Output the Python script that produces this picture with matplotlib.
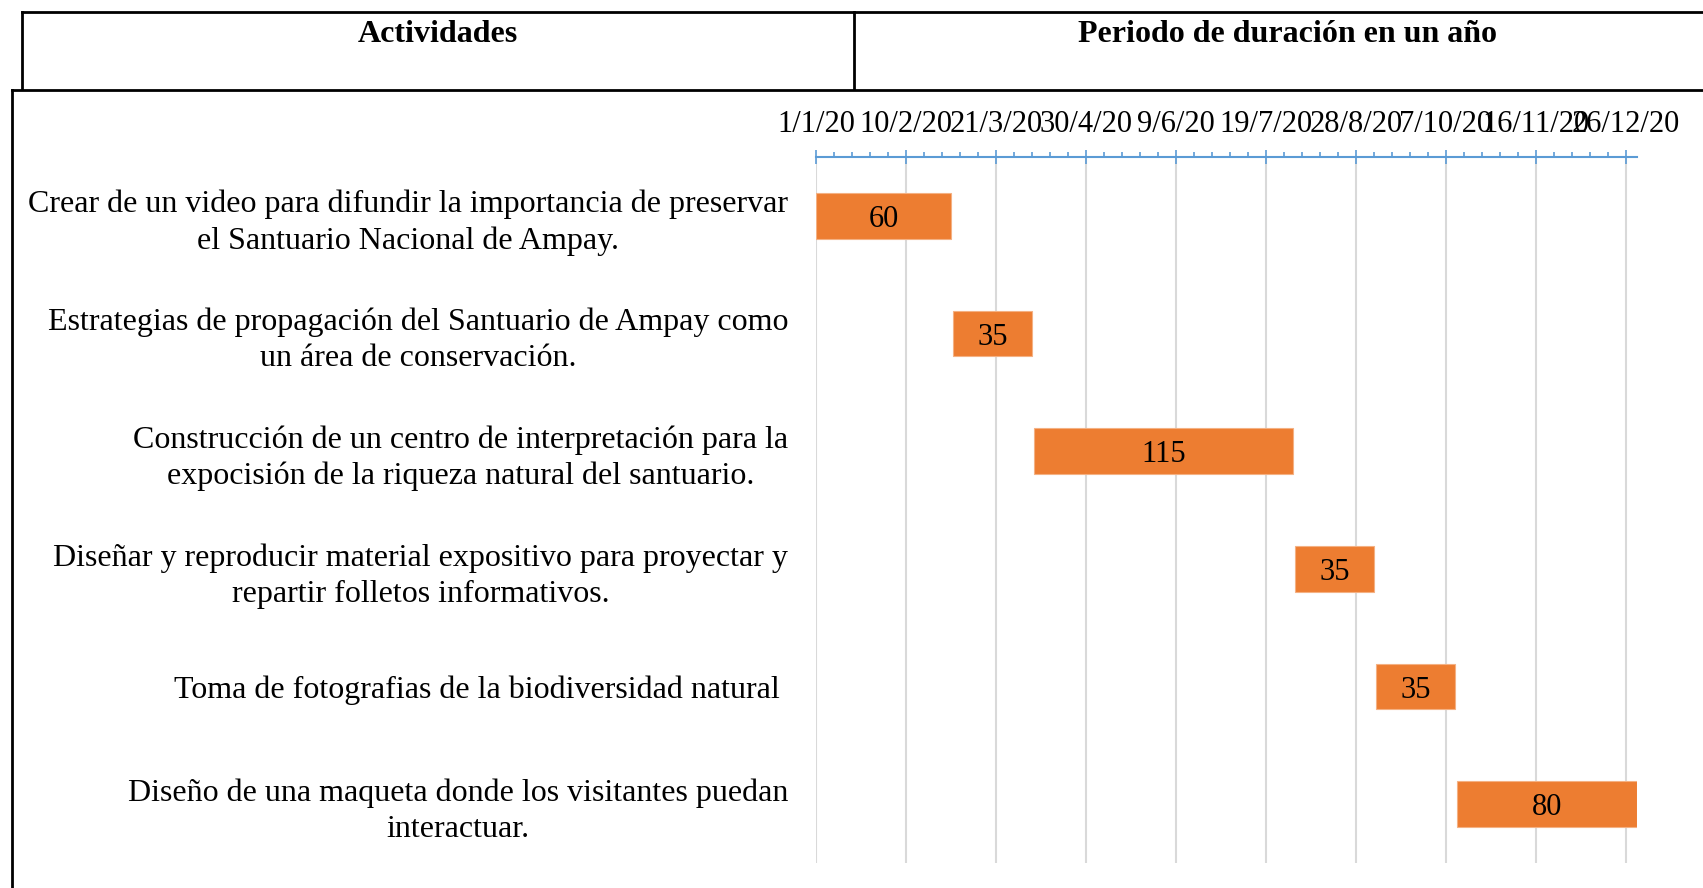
import numpy as np
import matplotlib
matplotlib.use("Agg")
import matplotlib.pyplot as plt
import matplotlib.dates as mdates
from matplotlib.lines import Line2D
from matplotlib.ticker import FixedLocator, FuncFormatter

W, H = 1703, 888
plt.rcParams["font.family"] = ["Liberation Serif", "DejaVu Serif"]

activities = [
    "Crear de un video para difundir la importancia de preservar\nel Santuario Nacional de Ampay.",
    "Estrategias de propagación del Santuario de Ampay como\nun área de conservación.",
    "Construcción de un centro de interpretación para la\nexpocisión de la riqueza natural del santuario.",
    "Diseñar y reproducir material expositivo para proyectar y\nrepartir folletos informativos.",
    "Toma de fotografias de la biodiversidad natural ",
    "Diseño de una maqueta donde los visitantes puedan\ninteractuar.",
]
starts = ["2020-01-01", "2020-03-02", "2020-04-07", "2020-08-01", "2020-09-06", "2020-10-12"]
durations = [60, 35, 115, 35, 35, 80]
header_left = "Actividades"
header_right = "Periodo de duración en un año"
axis_start, axis_end = "2020-01-01", "2020-12-31"

ORANGE = "#ED7D31"
BLUE = "#5B9BD5"
GRID = "#D9D9D9"


def fx(px):
    return px / W


def fy(py):
    return 1 - py / H


fig = plt.figure(figsize=(W / 100, H / 100), dpi=100)
ax = fig.add_axes([fx(816), fy(863), fx(1637) - fx(816), fy(157) - fy(863)])

left = mdates.date2num(np.array(starts, dtype="datetime64[D]"))
ypos = np.arange(len(activities))
bars = ax.barh(ypos, durations, left=left, height=0.39, color=ORANGE,
               edgecolor="#F4B183", linewidth=0.8, zorder=3)
for b, d in zip(bars, durations):
    ax.text(b.get_x() + b.get_width() / 2, b.get_y() + b.get_height() / 2, str(d),
            ha="center", va="center_baseline", fontsize=22, zorder=4)

x0 = mdates.date2num(np.datetime64(axis_start))
x1 = mdates.date2num(np.datetime64(axis_end))
ax.set_xlim(x0, x1)
ax.set_ylim(len(activities) - 0.5, -0.5)

ax.xaxis.set_major_locator(FixedLocator(np.arange(x0, x1 + 1, 40)))
ax.xaxis.set_minor_locator(FixedLocator(np.arange(x0, x1 + 1, 8)))


def fmt(v, pos):
    d = mdates.num2date(v)
    return f"{d.day}/{d.month}/{d.strftime('%y')}"


ax.xaxis.set_major_formatter(FuncFormatter(fmt))
ax.xaxis.tick_top()
ax.tick_params(axis="x", which="major", direction="inout", length=10, width=1.2,
               color=BLUE, labelsize=22, pad=8)
ax.tick_params(axis="x", which="minor", direction="out", length=3.5, width=1.2, color=BLUE)
ax.grid(axis="x", which="major", color=GRID, linewidth=1.5, zorder=0)

ax.set_yticks(ypos)
ax.set_yticklabels(activities, fontsize=23)
ax.tick_params(axis="y", length=0, pad=20)
for lab in ax.get_yticklabels():
    lab.set_multialignment("center")
    lab.set_linespacing(1.32)

for s in ["left", "right", "bottom"]:
    ax.spines[s].set_visible(False)
ax.spines["top"].set_color(BLUE)
ax.spines["top"].set_linewidth(1.5)

# table frame around the chart
lw = 2
fig.add_artist(Line2D([fx(22), 1], [fy(12), fy(12)], color="black", lw=lw))
fig.add_artist(Line2D([fx(22), fx(22)], [fy(12), fy(89)], color="black", lw=lw))
fig.add_artist(Line2D([fx(854), fx(854)], [fy(12), fy(89)], color="black", lw=lw))
fig.add_artist(Line2D([fx(12), 1], [fy(90), fy(90)], color="black", lw=lw))
fig.add_artist(Line2D([fx(12), fx(12)], [fy(90), 0], color="black", lw=lw))

fig.text(fx(438), fy(35), header_left, ha="center", va="center", fontsize=23, fontweight="bold")
fig.text(fx(1287), fy(35), header_right, ha="center", va="center", fontsize=23, fontweight="bold")

fig.savefig("out.png", dpi=100)
